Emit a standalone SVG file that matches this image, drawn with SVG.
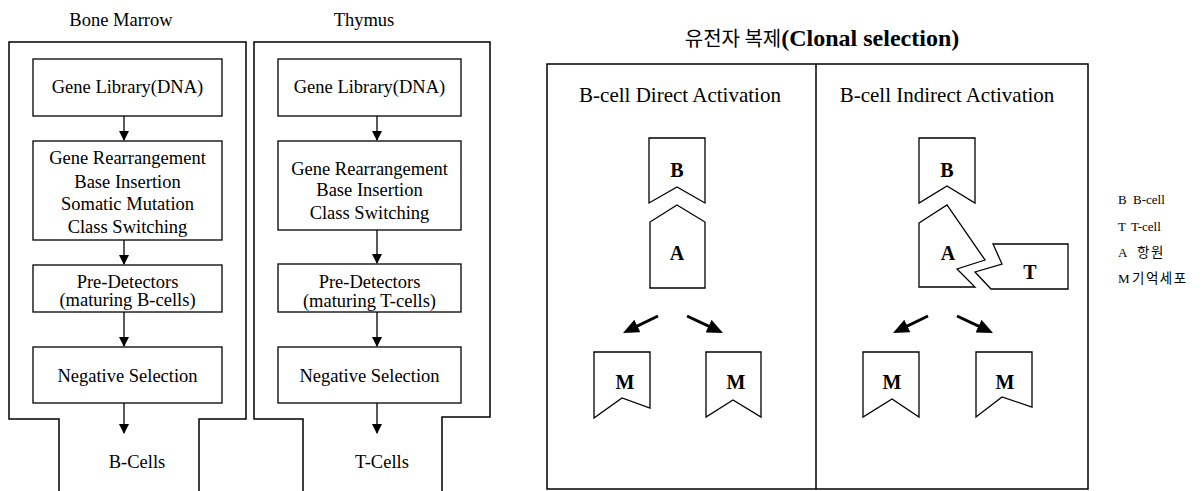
<svg xmlns="http://www.w3.org/2000/svg" width="1204" height="491" viewBox="0 0 1204 491">
<style>
.bg{fill:#fff}
.frame{fill:none;stroke:#000;stroke-width:1.5}
.box{fill:#fff;stroke:#000;stroke-width:1.3}
.shape{fill:#fff;stroke:#000;stroke-width:1.3;stroke-linejoin:miter}
.t{font-family:"Liberation Serif","Times New Roman",serif;font-size:18.5px;fill:#000;text-anchor:middle}
.h{font-family:"Liberation Serif","Times New Roman",serif;font-size:21px;fill:#000;text-anchor:middle}
.lbl{font-family:"Liberation Serif","Times New Roman",serif;font-size:20px;font-weight:bold;fill:#000;text-anchor:middle}
.lg{font-family:"Liberation Serif","Times New Roman",serif;font-size:13px;fill:#000}
.lgk{font-family:"Noto Sans CJK KR",sans-serif;font-size:13.5px;fill:#000;letter-spacing:1.5px}
.thin{stroke:#000;stroke-width:1.3;fill:none}
.thick{stroke:#000;stroke-width:3;fill:none}
</style>
<defs>
<marker id="ah" markerUnits="userSpaceOnUse" markerWidth="10" markerHeight="10" refX="9" refY="5" orient="auto">
<path d="M0,0 L10,5 L0,10 z" fill="#000"/>
</marker>
<marker id="ahb" markerUnits="userSpaceOnUse" markerWidth="16" markerHeight="14" refX="10" refY="7" orient="auto">
<path d="M0,0 L16,7 L0,14 z" fill="#000"/>
</marker>
</defs>
<rect class="bg" x="0" y="0" width="1204" height="491"/>

<g id="bone-marrow">
<text class="t" x="121" y="26">Bone Marrow</text>
<path class="frame" d="M59,491 L59,419 L9,419 L9,42 L246,42 L246,419 L199,419 L199,491"/>
</g>
<g id="bm-gene-library">
<rect class="box" x="33" y="59" width="189" height="57"/>
<text class="t" x="127.5" y="93">Gene Library(DNA)</text>
</g>
<g id="bm-rearrangement">
<rect class="box" x="33" y="141" width="189" height="99"/>
<text class="t" x="127.5" y="164">Gene Rearrangement</text>
<text class="t" x="127.5" y="188">Base Insertion</text>
<text class="t" x="127.5" y="210">Somatic Mutation</text>
<text class="t" x="127.5" y="233">Class Switching</text>
</g>
<g id="bm-predetectors">
<rect class="box" x="33" y="265" width="189" height="47"/>
<text class="t" x="127.5" y="288">Pre-Detectors</text>
<text class="t" x="127.5" y="306">(maturing B-cells)</text>
</g>
<g id="bm-negative">
<rect class="box" x="33" y="347" width="189" height="56"/>
<text class="t" x="127.5" y="382">Negative Selection</text>
</g>
<g id="bm-bcells">
<text class="t" x="137" y="468">B-Cells</text>
</g>

<g id="thymus">
<text class="t" x="364" y="26">Thymus</text>
<path class="frame" d="M303,491 L303,419 L254,419 L254,42 L490,42 L490,417 L442,417 L442,491"/>
</g>
<g id="th-gene-library">
<rect class="box" x="278" y="59" width="183" height="57"/>
<text class="t" x="369.5" y="93">Gene Library(DNA)</text>
</g>
<g id="th-rearrangement">
<rect class="box" x="278" y="141" width="183" height="89"/>
<text class="t" x="369.5" y="175">Gene Rearrangement</text>
<text class="t" x="369.5" y="196">Base Insertion</text>
<text class="t" x="369.5" y="219">Class Switching</text>
</g>
<g id="th-predetectors">
<rect class="box" x="278" y="264" width="183" height="48"/>
<text class="t" x="369.5" y="288">Pre-Detectors</text>
<text class="t" x="369.5" y="307">(maturing T-cells)</text>
</g>
<g id="th-negative">
<rect class="box" x="278" y="347" width="183" height="56"/>
<text class="t" x="369.5" y="382">Negative Selection</text>
</g>
<g id="th-tcells">
<text class="t" x="382" y="468">T-Cells</text>
</g>

<g id="clonal-selection">
<text x="822" y="46" text-anchor="middle"><tspan font-family="'Noto Sans CJK KR',sans-serif" font-size="20">유전자 복제</tspan><tspan font-family="'Liberation Serif','Times New Roman',serif" font-weight="bold" font-size="24">(Clonal selection)</tspan></text>
<rect class="frame" x="547" y="64" width="541" height="425"/>
<line class="frame" x1="816" y1="64" x2="816" y2="489"/>
<text class="h" x="680" y="102">B-cell Direct Activation</text>
<text class="h" x="947" y="102">B-cell Indirect Activation</text>
</g>

<g id="direct-B">
<polygon class="shape" points="649,138 705,138 705,203 677,187 649,203"/>
<text class="lbl" x="677" y="177">B</text>
</g>
<g id="direct-A">
<polygon class="shape" points="677,205 705,222 705,288 650,288 650,222"/>
<text class="lbl" x="677" y="260">A</text>
</g>
<g id="direct-M1">
<polygon class="shape" points="594,352 650,352 650,408 622,398 594,418"/>
<text class="lbl" x="625" y="389">M</text>
</g>
<g id="direct-M2">
<polygon class="shape" points="706,352 761,352 761,417 733,400 706,417"/>
<text class="lbl" x="736" y="389">M</text>
</g>

<g id="indirect-B">
<polygon class="shape" points="919,138 975,138 975,203 947,186 919,203"/>
<text class="lbl" x="947" y="177">B</text>
</g>
<g id="indirect-A">
<polygon class="shape" points="919,223 947,205 985,260 957,269 975,287 919,287"/>
<text class="lbl" x="948" y="260">A</text>
</g>
<g id="indirect-T">
<polygon class="shape" points="993,244 1068,244 1068,289 991,289 975,272 1002,264"/>
<text class="lbl" x="1030" y="279">T</text>
</g>
<g id="indirect-M1">
<polygon class="shape" points="863,352 919,352 919,417 892,399 863,417"/>
<text class="lbl" x="892" y="389">M</text>
</g>
<g id="indirect-M2">
<polygon class="shape" points="976,352 1032,352 1032,407 1002,397 976,417"/>
<text class="lbl" x="1005" y="389">M</text>
</g>

<g id="legend">
<text class="lg" x="1118" y="204">B</text><text class="lg" x="1133" y="204">B-cell</text>
<text class="lg" x="1118" y="231">T</text><text class="lg" x="1131" y="231">T-cell</text>
<text class="lg" x="1118" y="257">A</text><text class="lgk" x="1137" y="257">항원</text>
<text class="lg" x="1118" y="283" font-family="'Liberation Sans',sans-serif">M</text><text class="lgk" x="1132" y="283">기억세포</text>
</g>

<g id="connectors">
<line class="thin" x1="124" y1="116" x2="124" y2="140" marker-end="url(#ah)"/>
<line class="thin" x1="124" y1="240" x2="124" y2="264" marker-end="url(#ah)"/>
<line class="thin" x1="124" y1="312" x2="124" y2="346" marker-end="url(#ah)"/>
<line class="thin" x1="124" y1="403" x2="124" y2="433" marker-end="url(#ah)"/>
<line class="thin" x1="377" y1="116" x2="377" y2="140" marker-end="url(#ah)"/>
<line class="thin" x1="377" y1="230" x2="377" y2="263" marker-end="url(#ah)"/>
<line class="thin" x1="377" y1="312" x2="377" y2="346" marker-end="url(#ah)"/>
<line class="thin" x1="377" y1="403" x2="377" y2="433" marker-end="url(#ah)"/>
<line class="thick" x1="658" y1="316" x2="628.4" y2="330.4" marker-end="url(#ahb)"/>
<line class="thick" x1="687" y1="316" x2="717.6" y2="330.4" marker-end="url(#ahb)"/>
<line class="thick" x1="928" y1="316" x2="898.4" y2="330.4" marker-end="url(#ahb)"/>
<line class="thick" x1="957" y1="316" x2="987.6" y2="330.4" marker-end="url(#ahb)"/>
</g>
</svg>
